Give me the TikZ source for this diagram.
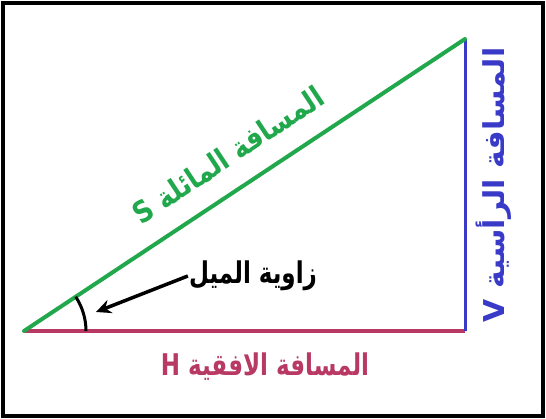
\documentclass[tikz,border=0pt]{standalone}
\usepackage{fontspec}
\usetikzlibrary{arrows.meta}
\TeXXeTstate=1
\newfontfamily\arabicfont[Script=Arabic]{DejaVu Sans}
\definecolor{slopegreen}{RGB}{34,168,76}
\definecolor{horzred}{RGB}{184,58,100}
\definecolor{vertblue}{RGB}{58,58,200}
\tikzset{
  arlabel/.style={font=\arabicfont\bfseries\fontsize{23}{26}\selectfont,inner sep=1pt,transform shape},
}

\begin{document}
\begin{tikzpicture}[x=1pt,y=1pt]
  \useasboundingbox (0,0) rectangle (546,419);
  \draw[line width=4] (3,3) rectangle (543,416);
  \coordinate (A) at (24,88);
  \coordinate (B) at (465,88);
  \coordinate (C) at (465,380);
  \draw[horzred,line width=4.5] (A)--(B);
  \draw[vertblue,line width=3] (B)--(C);
  \draw[slopegreen,line width=4,line cap=round] (A)--(C);
  % angle of slope
  \draw[line width=3] (A) ++(62,0) arc[start angle=0,end angle=33.5,radius=62];
  \node[arlabel,yscale=1.3] (angle) at (253,143) {\beginR زاوية الميل\endR};
  \coordinate (tip) at (96,107);
  \draw[line width=3.5,-{Stealth[length=15,width=14,inset=5]}] (angle.west)--(tip);
  % side labels
  \node[arlabel,text=slopegreen,rotate=33.5,xscale=1.12,yscale=1.3] (S) at (228,264) {\beginR المسافة المائلة S\endR};
  \node[arlabel,text=vertblue,rotate=90,xscale=1.3,yscale=1.25] (V) at (494,234) {\beginR المسافة الرأسية V\endR};
  \node[arlabel,text=horzred,yscale=1.3] (H) at (265,52) {\beginR المسافة الافقية H\endR};
\end{tikzpicture}
\end{document}
